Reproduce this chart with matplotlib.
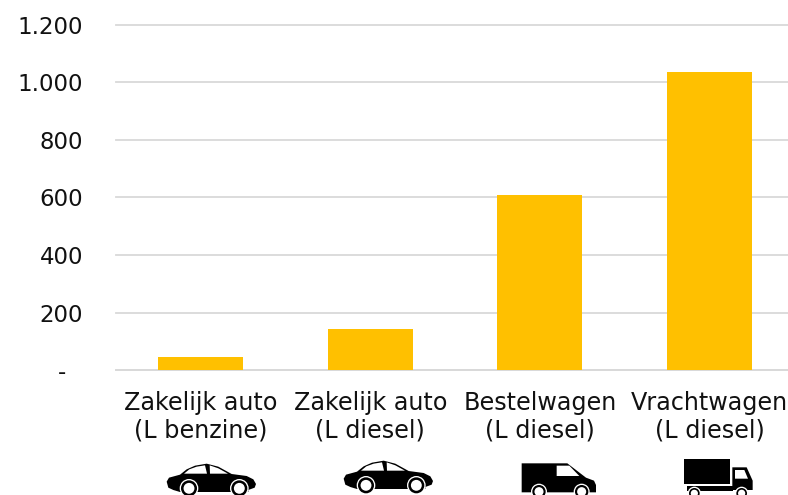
import matplotlib
matplotlib.use("Agg")
import matplotlib.pyplot as plt
from matplotlib.patches import Polygon, Circle
from matplotlib.transforms import Affine2D, ScaledTranslation

categories = ["Zakelijk auto\n(L benzine)", "Zakelijk auto\n(L diesel)", "Bestelwagen\n(L diesel)", "Vrachtwagen\n(L diesel)"]
values = [45, 143, 607, 1035]
y_ticks = [0, 200, 400, 600, 800, 1000, 1200]
y_labels = ["-", "200", "400", "600", "800", "1.000", "1.200"]

W, H = 788, 495
plt.rcParams["font.family"] = "DejaVu Sans"
fig = plt.figure(figsize=(W / 100, H / 100), dpi=100)
ax = fig.add_axes([116 / W, 1 - 370 / H, (W - 116) / W, (370 - 25) / H])
ax.bar(range(4), values, width=0.5, color="#FFC000", zorder=3)
ax.set_xlim(-0.498, 3.462)
ax.set_ylim(0, 1200)
ax.set_yticks(y_ticks, y_labels, fontsize=16.5, color="#111111")
ax.set_xticks(range(4), categories, fontsize=17.2, color="#111111", linespacing=1.18)
ax.tick_params(length=0)
ax.tick_params(axis="y", pad=23.5)
ax.tick_params(axis="x", pad=15)
ax.grid(axis="y", color="#D9D9D9", lw=1.3, zorder=0, clip_on=False)
ax.set_axisbelow(True)
for s in ax.spines.values():
    s.set_visible(False)
ax.spines["bottom"].set_visible(True)
ax.spines["bottom"].set_color("#D9D9D9")
ax.spines["bottom"].set_linewidth(1.3)
fig.canvas.draw()
dash = ax.get_yticklabels()[0]
dash.set_transform(dash.get_transform() + ScaledTranslation(-17 / 100, 0, fig.dpi_scale_trans))


def px(ox, oy):
    """Zoomed-crop (3x) coordinates to figure pixels, y flipped."""
    return Affine2D().scale(1 / 3, -1 / 3).translate(ox, H - oy)


def poly(pts, tr, color="black"):
    fig.add_artist(Polygon(pts, closed=True, fc=color, ec="none", transform=tr))


def wheel(x, y, r, tr):
    fig.add_artist(Circle((x, y), r + 4, fc="white", ec="none", transform=tr))
    fig.add_artist(Circle((x, y), r, fc="black", ec="none", transform=tr))
    fig.add_artist(Circle((x, y), r * 0.68, fc="white", ec="none", transform=tr))


def car(ox, oy):
    tr = px(ox, oy)
    poly([(140, 125), (147, 113), (180, 104), (200, 88), (225, 77), (260, 71), (295, 80),
          (335, 102), (380, 108), (400, 118), (408, 132), (404, 143), (385, 150),
          (385, 156), (180, 156), (160, 150), (145, 143)], tr)
    poly([(192, 101), (208, 88), (230, 80), (255, 76), (261, 101)], tr, "white")
    poly([(269, 76), (295, 85), (324, 101), (270, 101)], tr, "white")
    wheel(207, 145, 24, tr)
    wheel(358, 145, 24, tr)


def van(ox, oy):
    tr = px(ox, oy)
    poly([(125, 70), (262, 70), (318, 113), (342, 122), (348, 135), (348, 157), (125, 157)], tr)
    poly([(230, 77), (268, 77), (298, 108), (230, 108)], tr, "white")
    wheel(177, 155, 20, tr)
    wheel(305, 155, 20, tr)


def truck(ox, oy):
    tr = px(ox, oy)
    poly([(612, 57), (750, 57), (750, 132), (612, 132)], tr)
    poly([(757, 82), (800, 82), (818, 122), (818, 150), (757, 150)], tr)
    poly([(620, 138), (760, 138), (760, 153), (620, 153)], tr)
    poly([(765, 90), (793, 90), (804, 116), (765, 116)], tr, "white")
    wheel(643, 160, 16, tr)
    wheel(785, 160, 16, tr)


car(120, 440)
car(120 + 177, 437)
van(480, 440)
truck(480, 440)

fig.savefig("out.png", dpi=100)
